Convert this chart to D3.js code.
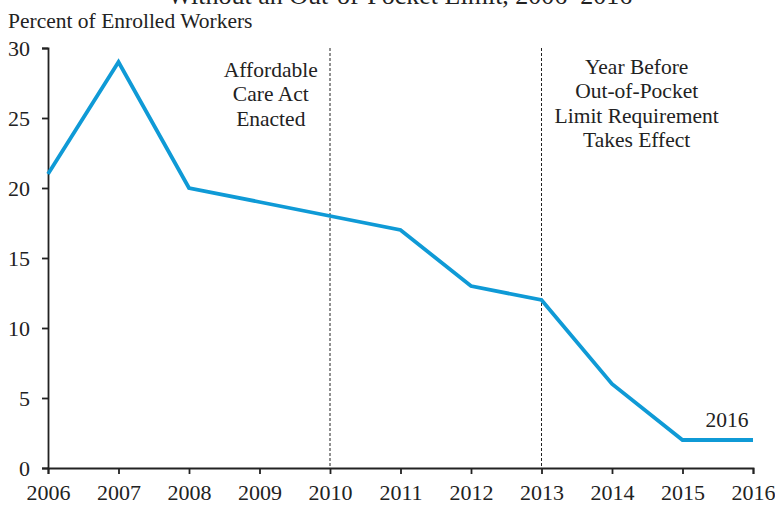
<!DOCTYPE html>
<html>
<head>
<meta charset="utf-8">
<script src="https://cdn.jsdelivr.net/npm/d3@7"></script>
<style>
  body { margin: 0; background: #fff; }
  svg text { font-family: "Liberation Serif", "Times New Roman", serif; fill: #222; }
</style>
</head>
<body>
<div id="chart"></div>
<script>
// Data
const years = [2006, 2007, 2008, 2009, 2010, 2011, 2012, 2013, 2014, 2015, 2016];
const percentWithoutLimit = [21, 29, 20, 19, 18, 17, 13, 12, 6, 2, 2];
const yTicks = [0, 5, 10, 15, 20, 25, 30];
const markerYears = [2010, 2013];
const notes = [
  { year: 2009.16, value: 27.93, lines: ["Affordable", "Care Act", "Enacted"] },
  { year: 2014.35, value: 28.14, lines: ["Year Before", "Out-of-Pocket", "Limit Requirement", "Takes Effect"] },
  { year: 2015.63, value: 2.93, lines: ["2016"] }
];

const width = 775, height = 505;
const margin = { top: 48, right: 22, bottom: 37, left: 48 };

const svg = d3.select("#chart")
  .append("svg")
  .attr("width", width)
  .attr("height", height);

const x = d3.scaleLinear()
  .domain([2006, 2016])
  .range([margin.left, width - margin.right]);

const y = d3.scaleLinear()
  .domain([0, 30])
  .range([height - margin.bottom, margin.top]);

// Title (cut off at the top in the original)
svg.append("text")
  .attr("x", 400)
  .attr("y", 4)
  .attr("text-anchor", "middle")
  .attr("font-size", "26px")
  .text("Without an Out-of-Pocket Limit, 2006–2016");

svg.append("text")
  .attr("x", 8)
  .attr("y", 28)
  .attr("font-size", "21.5px")
  .text("Percent of Enrolled Workers");

// Axes
const yAxis = svg.append("g")
  .attr("transform", `translate(${margin.left},0)`)
  .call(d3.axisLeft(y).tickValues(yTicks).tickSize(6).tickPadding(12));

const xAxis = svg.append("g")
  .attr("transform", `translate(0,${y(0)})`)
  .call(d3.axisBottom(x).tickValues(years).tickFormat(d3.format("d")).tickSize(6).tickPadding(10));

[yAxis, xAxis].forEach(g => {
  g.select(".domain").attr("stroke", "#222").attr("stroke-width", 1.8);
  g.selectAll(".tick line").attr("stroke", "#222").attr("stroke-width", 1.8);
  g.selectAll(".tick text").attr("font-size", "22px").attr("fill", "#222")
    .style("font-family", '"Liberation Serif", serif');
});

// Dashed marker lines
svg.selectAll(".marker")
  .data(markerYears)
  .join("line")
  .attr("class", "marker")
  .attr("x1", d => x(d))
  .attr("x2", d => x(d))
  .attr("y1", y(30))
  .attr("y2", y(0))
  .attr("stroke", "#222")
  .attr("stroke-width", 1)
  .attr("stroke-dasharray", "3,2");

// Series line
const line = d3.line()
  .x((d, i) => x(years[i]))
  .y(d => y(d));

svg.append("path")
  .datum(percentWithoutLimit)
  .attr("fill", "none")
  .attr("stroke", "#0f9ad6")
  .attr("stroke-width", 3.8)
  .attr("stroke-linejoin", "miter")
  .attr("d", line);

// Annotations
notes.forEach(n => {
  const t = svg.append("text")
    .attr("x", x(n.year))
    .attr("y", y(n.value))
    .attr("text-anchor", "middle")
    .attr("font-size", "21.5px");
  n.lines.forEach((l, i) => {
    t.append("tspan")
      .attr("x", x(n.year))
      .attr("dy", i === 0 ? 0 : 24.3)
      .text(l);
  });
});
</script>
</body>
</html>
